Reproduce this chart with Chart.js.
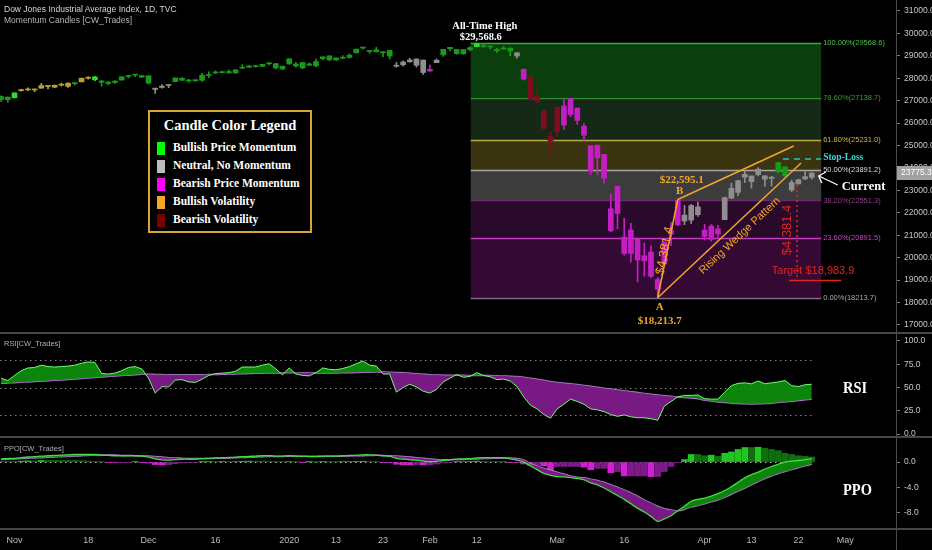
<!DOCTYPE html>
<html><head><meta charset="utf-8">
<script src="https://cdn.jsdelivr.net/npm/chart.js@4.4.0/dist/chart.umd.min.js"></script>
<style>
html,body{margin:0;padding:0;background:#000;width:932px;height:550px;overflow:hidden;}
#wrap{position:relative;width:932px;height:550px;background:#000;}
canvas{position:absolute;left:0;}
.sep{position:absolute;left:0;width:932px;height:2px;background:#464646;}
.t{position:absolute;white-space:nowrap;font-family:'Liberation Sans',Arial,sans-serif;}
.serif{font-family:'Liberation Serif','Times New Roman',serif;font-weight:bold;color:#fff;}
#legend{position:absolute;left:148px;top:110px;width:160px;height:119px;border:2px solid #d9a531;background:#000;}
#legend .title{position:absolute;left:0;width:160px;top:5px;text-align:center;font-size:14.5px;}
#legend .sw{position:absolute;left:7px;width:8px;height:13px;}
#legend .lb{position:absolute;left:23px;font-size:11.5px;}
.big{position:absolute;font-family:'Liberation Serif',serif;font-weight:bold;color:#fff;font-size:17px;transform:scaleX(0.85);transform-origin:left center;}
</style></head><body>
<div id="wrap">
<canvas id="cPrice" width="932" height="333" style="top:0"></canvas>
<canvas id="cRsi" width="932" height="104" style="top:333px"></canvas>
<canvas id="cPpo" width="932" height="113" style="top:437px"></canvas>
<div class="sep" style="top:332px"></div>
<div class="sep" style="top:436px"></div>
<div class="sep" style="top:528px"></div>
<div style="position:absolute;left:896px;top:0;width:1px;height:550px;background:#4a4a4a"></div>
<div class="t" style="left:4px;top:4px;font-size:8.5px;color:#d6d6d6">Dow Jones Industrial Average Index, 1D, TVC</div>
<div class="t" style="left:4px;top:15px;font-size:8.5px;color:#b4b4b4">Momentum Candles [CW_Trades]</div>
<div class="t" style="left:4px;top:339px;font-size:7.5px;color:#b0b0b0">RSI[CW_Trades]</div>
<div class="t" style="left:4px;top:444px;font-size:7.5px;color:#b0b0b0">PPO[CW_Trades]</div>
<div class="big" style="left:843px;top:378px">RSI</div>
<div class="big" style="left:843px;top:480px">PPO</div>
<div id="legend" class="serif">
  <div class="title">Candle Color Legend</div>
  <div class="sw" style="top:30px;background:#00ff00"></div><div class="lb" style="top:29px">Bullish Price Momentum</div>
  <div class="sw" style="top:48px;background:#bdbdbd"></div><div class="lb" style="top:47px">Neutral, No Momentum</div>
  <div class="sw" style="top:66px;background:#ff00ff"></div><div class="lb" style="top:65px">Bearish Price Momentum</div>
  <div class="sw" style="top:84px;background:#f5a623"></div><div class="lb" style="top:83px">Bullish Volatility</div>
  <div class="sw" style="top:102px;background:#7a0000"></div><div class="lb" style="top:101px">Bearish Volatility</div>
</div>
</div>
<script>
// ---------- DATA ----------
const dates = [
'2019-10-30','2019-10-31',
'2019-11-01','2019-11-04','2019-11-05','2019-11-06','2019-11-07','2019-11-08','2019-11-11','2019-11-12','2019-11-13','2019-11-14','2019-11-15','2019-11-18','2019-11-19','2019-11-20','2019-11-21','2019-11-22','2019-11-25','2019-11-26','2019-11-27','2019-11-29',
'2019-12-02','2019-12-03','2019-12-04','2019-12-05','2019-12-06','2019-12-09','2019-12-10','2019-12-11','2019-12-12','2019-12-13','2019-12-16','2019-12-17','2019-12-18','2019-12-19','2019-12-20','2019-12-23','2019-12-24','2019-12-26','2019-12-27','2019-12-30','2019-12-31',
'2020-01-02','2020-01-03','2020-01-06','2020-01-07','2020-01-08','2020-01-09','2020-01-10','2020-01-13','2020-01-14','2020-01-15','2020-01-16','2020-01-17','2020-01-21','2020-01-22','2020-01-23','2020-01-24','2020-01-27','2020-01-28','2020-01-29','2020-01-30','2020-01-31',
'2020-02-03','2020-02-04','2020-02-05','2020-02-06','2020-02-07','2020-02-10','2020-02-11','2020-02-12','2020-02-13','2020-02-14','2020-02-18','2020-02-19','2020-02-20','2020-02-21','2020-02-24','2020-02-25','2020-02-26','2020-02-27','2020-02-28',
'2020-03-02','2020-03-03','2020-03-04','2020-03-05','2020-03-06','2020-03-09','2020-03-10','2020-03-11','2020-03-12','2020-03-13','2020-03-16','2020-03-17','2020-03-18','2020-03-19','2020-03-20','2020-03-23','2020-03-24','2020-03-25','2020-03-26','2020-03-27','2020-03-30','2020-03-31',
'2020-04-01','2020-04-02','2020-04-03','2020-04-06','2020-04-07','2020-04-08','2020-04-09','2020-04-13','2020-04-14','2020-04-15','2020-04-16','2020-04-17','2020-04-20','2020-04-21','2020-04-22','2020-04-23','2020-04-24'];
const futureDates = ['2020-04-27','2020-04-28','2020-04-29','2020-04-30','2020-05-01'];

const opens = [27050,27160,27130,27450,27480,27480,27560,27630,27600,27700,
27640,27760,27840,28000,28060,27880,27830,27810,27920,28080,
28140,28120,28109,27560,27590,27690,27850,28000,27900,27890,
27910,28120,28250,28250,28300,28240,28480,28490,28550,28530,
28675,28654,28415,28638,28553,28465,28640,28556,28874,29000,
28820,28895,28930,29133,29364,29230,29264,29137,29244,28555,
28602,28820,28580,28813,28319,28697,29049,29321,29286,29094,
29366,29407,29420,29440,29280,29305,29331,29135,28403,28038,
27189,26527,25195,25591,26762,26384,26672,25457,24992,24453,
24605,22185,21974,20918,20190,20819,19863,20253,19028,19722,
21050,21468,21898,21678,22266,21227,20819,21286,21694,23092,
22913,23589,23645,23706,23652,23592,23830,24050,23356,23288,
23613,23581];
const highs = [27220,27170,27350,27515,27572,27523,27775,27681,27697,27787,
27797,27802,28005,28072,28090,27910,27850,27900,28068,28122,
28174,28120,28109,27560,27720,27700,28020,28036,27950,27930,
28225,28290,28337,28320,28375,28384,28608,28582,28590,28621,
28702,28664,28548,28872,28716,28708,28685,28866,28958,29009,
28908,29010,29088,29299,29374,29233,29373,29191,29247,28703,
28774,28892,28867,28813,28592,28857,29290,29380,29286,29277,
29415,29569,29526,29441,29333,29408,29366,29151,28403,28149,
27492,26621,25600,26706,27085,27102,26672,25994,24992,25021,
24605,22838,23190,21768,21529,20827,20653,20531,19121,20711,
21565,22595,22328,22378,22479,21487,21478,21447,22704,23329,
23449,23869,23645,24017,23652,23626,24264,24050,23456,23508,
23888,23794];
const lows = [26960,26930,27120,27421,27445,27397,27550,27527,27578,27648,
27592,27697,27840,27960,27880,27650,27700,27770,27920,28010,
28070,28030,27750,27325,27560,27580,27850,27900,27820,27860,
27860,28030,28210,28240,28230,28215,28430,28490,28500,28530,
28600,28420,28376,28627,28500,28419,28565,28503,28819,28779,
28790,28876,28895,29133,29295,29115,29165,28958,28864,28493,
28535,28716,28497,28169,28319,28697,28977,29225,29068,29060,
29218,29407,29369,29308,29155,29305,29003,28892,27922,27058,
26906,25754,24681,25392,25706,26286,25943,25227,23706,23690,
23328,21154,21285,20116,19800,18917,19177,19095,18213.7,19649,
20538,21427,21469,21522,21846,20785,20735,20863,21694,22635,
22762,23346,23099,23651,23175,23196,23778,23597,22942,23288,
23481,23499];
const closes = [27186,27046,27347,27462,27493,27493,27675,27681,27691,27691,
27784,27782,28005,28036,27934,27821,27766,27876,28066,28122,
28164,28051,27783,27503,27650,27678,28015,27910,27882,27911,
28132,28135,28236,28267,28239,28377,28455,28552,28515,28621,
28645,28462,28538,28869,28635,28703,28584,28745,28957,28824,
28907,28940,29030,29298,29348,29196,29186,29160,28990,28536,
28723,28734,28859,28256,28400,28808,29291,29380,29103,29277,
29276,29551,29423,29398,29232,29348,29220,28992,27961,27081,
26958,25767,25409,26703,25917,27091,26121,25865,23851,25018,
23553,21201,23186,20189,21237,19899,20087,19174,18592,20705,
21201,22552,21637,22327,21917,20944,21413,21053,22680,22654,
23434,23719,23391,23950,23504,23538,24242,23650,23019,23476,
23515,23775.3];
// candle state: G/g bullish momentum, n neutral, m bearish momentum, y bullish volatility, r bearish volatility
const candleStates = ('ggG'+'yyyyyyyy'+'g'+'yy'+'G'+'gggggggg'+'nnn'+
'ggggggggggggggggggggggggggggggggg'+'nnnnn'+'m'+'n'+'ggggg'+'G'+'ggggg'+'n'+'m'+'rrrrr'+
'mmmmmmmmmmmmmmmmmm'+'nnn'+'mmm'+'nnnnnnnn'+'gg'+'nnnn').split('');

const rsiValues = [60,57.5,63,68,71,71.5,74,72.5,72,72.5,
73,74,76,77.5,77,65,64.5,65.5,68,71.5,
72.5,70,60,44,51,50.5,58,58.5,56,55.5,
59,63,65,65.5,66,67.5,72,72,72,74,
75.5,70,63.5,71,64.5,63,62.5,66,71,69.5,
69,70.5,72.5,75.5,78.5,74,73,64.5,64.5,45,
50,53.5,50.5,46,44,48,56,60,64,61,
62,66,63,61.5,58.5,59,57,51,40,31,
27,21,17,27,32,37.5,35,32,27,26,
24,21,19,20.5,18.5,17.5,17.5,16.5,14.7,30,
35,40,41.5,41.5,42,38,37.5,37.5,45,52,
54.5,55,54,57,54,55,56,57.5,52,51,
53,53.5];
const rsiSignal = [54.5,54.8,
55.2,55.6,56.0,56.4,56.9,57.3,57.7,58.1,58.6,59.1,
59.6,60.2,60.8,61.3,61.8,62.3,62.8,63.3,63.8,64.2,
64.3,64.1,63.9,63.8,63.7,63.7,63.7,63.7,63.8,63.9,
64.0,64.2,64.4,64.6,64.8,65.0,65.2,65.4,65.6,65.7,
65.7,65.8,65.7,65.6,65.5,65.5,65.6,65.6,65.7,65.8,
65.9,66.1,66.3,66.5,66.6,66.6,66.5,66.2,65.8,65.3,
64.8,64.3,63.8,63.5,63.3,63.2,63.2,63.1,63.0,63.0,
62.9,62.8,62.6,62.4,62.2,61.8,61.0,60.0,59.0,57.8,
56.5,55.5,54.7,54.0,53.2,52.3,51.3,50.3,49.3,48.3,
47.3,46.4,45.5,44.6,43.7,42.8,41.9,41.2,40.5,39.9,
39.2,38.6,38.0,36.5,35.5,34.5,33.8,33.2,32.8,32.5,
32.4,32.5,32.8,33.2,33.8,34.5,35.2,36.0,36.8,37.5];

const ppoValues = [0.5,0.55,
0.6,0.7,0.8,0.85,0.95,1.0,1.05,1.1,1.15,1.2,
1.2,1.2,1.2,1.1,1.05,1.0,1.0,1.0,1.0,0.95,
0.8,0.5,0.35,0.3,0.4,0.45,0.45,0.45,0.55,0.6,
0.65,0.7,0.72,0.78,0.85,0.9,0.95,1.0,1.0,0.95,
0.95,1.0,0.95,0.9,0.9,0.9,0.95,0.95,0.95,1.0,
1.05,1.1,1.15,1.15,1.1,1.0,0.9,0.6,0.45,0.35,
0.3,0.15,0.05,0.1,0.25,0.35,0.45,0.5,0.55,0.65,
0.7,0.7,0.7,0.7,0.5,0.3,0.0,-0.6,-1.2,-1.8,
-2.1,-2.3,-2.35,-2.45,-2.6,-2.8,-3.3,-3.6,-4.1,-4.7,
-5.3,-5.9,-6.6,-7.3,-7.9,-8.6,-9.4,-9.0,-8.5,-7.7,
-7.0,-6.2,-5.9,-5.7,-5.4,-5.0,-4.5,-3.9,-3.2,-2.5,
-2.0,-1.6,-1.1,-0.7,-0.35,0.0,0.15,0.25,0.4,0.55];
const ppoSignal = [0.4,0.45,
0.5,0.55,0.6,0.65,0.7,0.75,0.8,0.85,0.9,0.95,
1.0,1.05,1.1,1.1,1.1,1.1,1.05,1.05,1.0,1.0,
0.95,0.9,0.8,0.7,0.65,0.6,0.55,0.55,0.55,0.55,
0.6,0.6,0.65,0.7,0.72,0.75,0.8,0.85,0.9,0.9,
0.9,0.92,0.92,0.92,0.9,0.9,0.9,0.92,0.93,0.95,
0.97,1.0,1.02,1.05,1.06,1.05,1.0,0.95,0.88,0.8,
0.7,0.6,0.5,0.42,0.38,0.38,0.4,0.42,0.45,0.5,
0.55,0.58,0.6,0.62,0.65,0.55,0.35,-0.3,-0.6,-1.0,
-1.3,-1.6,-1.9,-2.2,-2.4,-2.5,-2.7,-2.9,-3.2,-3.6,
-4.0,-4.4,-4.9,-5.4,-6.0,-6.5,-7.0,-7.4,-7.6,-7.7,
-7.5,-7.1,-6.9,-6.6,-6.3,-6.0,-5.6,-5.1,-4.6,-4.1,
-3.6,-3.1,-2.6,-2.2,-1.8,-1.5,-1.2,-0.9,-0.6,-0.35];
const ppoHist = [0.1,0.1,
0.1,0.15,0.2,0.2,0.25,0.25,0.25,0.25,0.25,0.25,
0.2,0.15,0.1,0.02,-0.05,-0.1,-0.05,-0.05,0.02,-0.05,
-0.15,-0.4,-0.45,-0.4,-0.25,-0.15,-0.1,-0.1,0.02,0.05,
0.05,0.1,0.07,0.08,0.13,0.15,0.15,0.15,0.1,0.05,
0.05,0.08,0.03,-0.02,0.02,0.02,0.05,0.03,0.02,0.05,
0.08,0.1,0.13,0.1,0.04,-0.05,-0.1,-0.35,-0.43,-0.45,
-0.4,-0.45,-0.45,-0.32,-0.13,-0.03,0.05,0.08,0.1,0.15,
0.1,0.08,0.06,0.03,-0.05,-0.1,-0.3,-0.5,-0.5,-0.6,
-1.5,-0.7,-0.7,-0.7,-0.7,-0.8,-1.2,-1.0,-1.0,-1.7,
-1.5,-2.2,-2.2,-2.2,-2.2,-2.3,-2.3,-1.5,-0.7,-0.1,
0.4,1.2,1.2,1.0,1.1,0.9,1.4,1.6,2.0,2.3,
2.3,2.35,2.2,2.0,1.8,1.4,1.2,1.0,0.9,0.8];

const priceTicks = [17000,18000,19000,20000,21000,22000,23000,24000,25000,26000,27000,28000,29000,30000,31000];
const rsiTicks = [0,25,50,75,100];
const rsiBands = [80,50,20];
const ppoTicks = [-8,-4,0];
const xTickDates = ['2019-11-01','2019-11-18','2019-12-02','2019-12-16','2020-01-02','2020-01-13','2020-01-23','2020-02-03','2020-02-12','2020-03-02','2020-03-16','2020-04-01','2020-04-13','2020-04-22','2020-05-01'];
const xTickLabels = ['Nov','18','Dec','16','2020','13','23','Feb','12','Mar','16','Apr','13','22','May'];

const fibPercents = ['100.00','78.60','61.80','50.00','38.20','23.60','0.00'];
const fibValues = [29568.6,27138.7,25231.0,23891.2,22551.3,20891.5,18213.7];
const athValue = 29568.6, lowA = 18213.7, highB = 22595.1;
const wedgeUpper = [[101,22595.1],[118.3,24981]];
const wedgeLower = [[98,18213.7],[119.4,24224]];
const legAB = [[98,18213.7],[101,22595.1]];
const stopLoss = 24400;
const targetPrice = 18983.9;
const moveSize = 4381.4;

// ---------- HELPERS ----------
const slots = dates.concat(futureDates);
const slotOf = d => slots.indexOf(d);
const xMin = -0.164, xMax = 133.57;
const stateColors = {G:'#2fdc2f', g:'#1a9a1a', y:'#b5a238', n:'#8e8e8e', m:'#c41ec4', r:'#7d0e20'};
const candleColors = candleStates.map(s => stateColors[s]);
const wicks = dates.map((d,i)=>({x:i, y:[lows[i], highs[i]]}));
const bodies = dates.map((d,i)=>({x:i, y:[Math.min(opens[i],closes[i]), Math.max(opens[i],closes[i])]}));
const pts = (arr)=>arr.map(a=>({x:a[0], y:a[1]}));
const series = (vals)=>vals.map((v,i)=>({x:i, y:v}));
const histColors = ppoHist.map((v,i)=>{
  const prev = i>0 ? ppoHist[i-1] : v;
  if (v >= 0) return v > prev ? '#22c522' : '#0f6f0f';
  return v < prev ? '#d21fd2' : '#7d1a8a';
});

Chart.defaults.font.family = "'Liberation Sans', Arial, sans-serif";
Chart.defaults.color = '#c8c8c8';

function xOpts(show){
  return {type:'linear', min:xMin, max:xMax, offset:false, display:show,
    grid:{display:false, drawTicks:false}, border:{display:false},
    afterFit:s=>{ if(show){s.height=21;} s.paddingLeft=0; s.paddingRight=0; },
    afterBuildTicks:s=>{ s.ticks = xTickDates.map(d=>({value:slotOf(d)})); },
    ticks:{autoSkip:false, maxRotation:0, minRotation:0, color:'#bcbcbc', font:{size:9}, padding:6,
      callback:(v)=>{ const k = xTickDates.findIndex(d=>slotOf(d)===v); return k>=0 ? xTickLabels[k] : ''; }}
  };
}
function yOpts(min,max,ticks,fmt){
  return {position:'right', min:min, max:max,
    afterFit:s=>{ s.width=36; s.paddingTop=0; s.paddingBottom=0; },
    afterBuildTicks:s=>{ s.ticks = ticks.map(v=>({value:v})); },
    grid:{drawOnChartArea:false, drawTicks:true, tickLength:4, color:'#777'},
    border:{display:false},
    ticks:{color:'#c8c8c8', font:{size:8.5}, padding:4, callback:fmt}
  };
}
const baseOpts = {responsive:false, animation:false, events:[], layout:{padding:0},
  plugins:{legend:{display:false}, tooltip:{enabled:false}}};

// ---------- PRICE PANE ----------
const fibBandColors = ['#0b3e0d','#162816','#3a3411','#3c3c3c','#2a0a2a','#340a34'];
const fibLineColors = ['#2fb42f','#2f8f2f','#b8aa44','#a8a8a0','#6a2a6a','#c23cc2','#8a6a8a'];
const fibTextColors = ['#4cc04c','#3d9a3d','#cbb445','#d8d8d8','#8e3c8e','#c548c5','#a8a8a8'];
const fibStart = 70.1, fibEnd = 122.4;

const fibPlugin = {
  id:'fib',
  beforeDatasetsDraw(chart){
    const {ctx, scales:{x,y}} = chart;
    const x0 = x.getPixelForValue(fibStart), x1 = x.getPixelForValue(fibEnd);
    ctx.save();
    for (let k=0;k<fibValues.length-1;k++){
      const ya = y.getPixelForValue(fibValues[k]), yb = y.getPixelForValue(fibValues[k+1]);
      ctx.fillStyle = fibBandColors[k];
      ctx.fillRect(x0, ya, x1-x0, yb-ya);
    }
    ctx.lineWidth = 1.5;
    fibValues.forEach((v,k)=>{
      const yy = Math.round(y.getPixelForValue(v))+0.5;
      ctx.strokeStyle = fibLineColors[k];
      ctx.beginPath(); ctx.moveTo(x0,yy); ctx.lineTo(x1,yy); ctx.stroke();
    });
    ctx.font = "7.5px 'Liberation Sans', Arial, sans-serif";
    ctx.textBaseline = 'middle'; ctx.textAlign = 'left';
    fibValues.forEach((v,k)=>{
      ctx.fillStyle = fibTextColors[k];
      ctx.fillText(fibPercents[k]+'%('+v.toFixed(1)+')', x1+2, y.getPixelForValue(v));
    });
    ctx.restore();
  }
};

function rotText(ctx, txt, cx, cy, ang){
  ctx.save(); ctx.translate(cx,cy); ctx.rotate(ang); ctx.fillText(txt,0,0); ctx.restore();
}
const money = v => '$'+v.toLocaleString('en-US',{minimumFractionDigits:1, maximumFractionDigits:1});
const annotPlugin = {
  id:'annot',
  afterDatasetsDraw(chart){
    const {ctx, scales:{x,y}} = chart;
    const X = v=>x.getPixelForValue(v), Y = v=>y.getPixelForValue(v);
    const serif = s=>"bold "+s+"px 'Liberation Serif', 'Times New Roman', serif";
    const sans = s=>s+"px 'Liberation Sans', Arial, sans-serif";
    const orange = '#f5a42a';
    ctx.save();
    ctx.textAlign='center'; ctx.textBaseline='middle';
    const athX = X(slotOf('2020-02-12'));
    ctx.fillStyle='#ffffff'; ctx.font=serif(10.5);
    ctx.fillText('All-Time High', athX+8, Y(athValue)-17);
    ctx.fillText(money(athValue), athX+4, Y(athValue)-6);
    const ax = X(legAB[0][0]), ay = Y(lowA), bx = X(legAB[1][0]), by = Y(highB);
    ctx.fillStyle=orange; ctx.font=serif(11);
    ctx.fillText(money(highB), bx+4, by-19);
    ctx.fillText('B', bx+2, by-8);
    ctx.fillText('A', ax+2, ay+9);
    ctx.fillText(money(lowA), ax+2, ay+23);
    ctx.font=sans(12.5);
    rotText(ctx, money(moveSize), (ax+bx)/2-3, (ay+by)/2+2, Math.atan2(by-ay, bx-ax));
    const lx0 = X(wedgeLower[0][0]), ly0 = Y(wedgeLower[0][1]), lx1 = X(wedgeLower[1][0]), ly1 = Y(wedgeLower[1][1]);
    const ang = Math.atan2(ly1-ly0, lx1-lx0);
    const mx = lx0 + (lx1-lx0)*0.52, my = ly0 + (ly1-ly0)*0.52;
    ctx.font=sans(11);
    rotText(ctx, 'Rising Wedge Pattern', mx - 11*Math.sin(ang), my + 11*Math.cos(ang), ang);
    const slY = Y(stopLoss);
    ctx.strokeStyle='#2fc4b4'; ctx.lineWidth=1.5; ctx.setLineDash([6,5]);
    ctx.beginPath(); ctx.moveTo(X(116.7), slY); ctx.lineTo(X(fibEnd), slY); ctx.stroke();
    ctx.setLineDash([]);
    ctx.fillStyle='#3fd8d0'; ctx.font=serif(9.5); ctx.textAlign='left';
    ctx.fillText('Stop-Loss', X(fibEnd)+2, slY-1);
    const red = '#e2231f';
    const vx = X(118.8);
    ctx.strokeStyle=red; ctx.lineWidth=1.5; ctx.setLineDash([2,3]);
    ctx.beginPath(); ctx.moveTo(vx, Y(23243)); ctx.lineTo(vx, Y(targetPrice)); ctx.stroke();
    ctx.setLineDash([]);
    ctx.beginPath(); ctx.moveTo(X(117.6), Y(targetPrice)); ctx.lineTo(X(125.4), Y(targetPrice)); ctx.stroke();
    ctx.fillStyle=red; ctx.font=sans(11); ctx.textAlign='center';
    ctx.fillText('Target '+money(targetPrice), X(121.2), Y(targetPrice)-10);
    ctx.font=sans(13);
    rotText(ctx, money(moveSize), vx-10, Y(21236), -Math.PI/2);
    const last = closes[closes.length-1];
    const tipX = X(dates.length-1)+7, tipY = Y(last)+3;
    ctx.strokeStyle='#ffffff'; ctx.lineWidth=1.3;
    ctx.beginPath(); ctx.moveTo(tipX+19, tipY+9); ctx.lineTo(tipX, tipY); ctx.stroke();
    ctx.beginPath(); ctx.moveTo(tipX+7, tipY-4); ctx.lineTo(tipX, tipY); ctx.lineTo(tipX+3, tipY+7); ctx.stroke();
    ctx.fillStyle='#ffffff'; ctx.font=serif(12.5); ctx.textAlign='left';
    ctx.fillText('Current', tipX+23, tipY+11);
    ctx.restore();
  },
  afterDraw(chart){
    const {ctx, scales:{y}} = chart;
    const last = closes[closes.length-1];
    const yy = y.getPixelForValue(last);
    ctx.save();
    ctx.fillStyle='#a2a2a2';
    ctx.fillRect(897, yy-7, 35, 14);
    ctx.fillStyle='#ffffff'; ctx.font="8.5px 'Liberation Sans', Arial, sans-serif";
    ctx.textBaseline='middle'; ctx.textAlign='left';
    ctx.fillText(last.toFixed(1), 901, yy);
    ctx.restore();
  }
};

new Chart(document.getElementById('cPrice'), {
  type:'bar',
  data:{datasets:[
    {type:'line', data:pts(wedgeUpper), borderColor:'#f5a42a', borderWidth:1.5, pointRadius:0, order:0},
    {type:'line', data:pts(wedgeLower), borderColor:'#f5a42a', borderWidth:1.5, pointRadius:0, order:0},
    {type:'line', data:pts(legAB), borderColor:'#f5a42a', borderWidth:1.5, pointRadius:0, order:0},
    {type:'bar', data:bodies, backgroundColor:candleColors, barThickness:5, grouped:false, minBarLength:1, order:1},
    {type:'bar', data:wicks, backgroundColor:candleColors, barThickness:1, grouped:false, order:2}
  ]},
  options:Object.assign({}, baseOpts, {
    scales:{x:xOpts(false), y:yOpts(16643,31490,priceTicks,v=>v.toFixed(1))}
  }),
  plugins:[fibPlugin, annotPlugin]
});

// ---------- RSI PANE ----------
const hlinePlugin = (vals, color) => ({
  id:'hl',
  beforeDatasetsDraw(chart){
    const {ctx, scales:{x,y}} = chart;
    ctx.save(); ctx.strokeStyle=color; ctx.lineWidth=1; ctx.setLineDash([1.5,3.5]);
    vals.forEach(v=>{ const yy=Math.round(y.getPixelForValue(v))+0.5;
      ctx.beginPath(); ctx.moveTo(x.getPixelForValue(xMin), yy); ctx.lineTo(x.getPixelForValue(dates.length-1), yy); ctx.stroke(); });
    ctx.restore();
  }
});

new Chart(document.getElementById('cRsi'), {
  type:'line',
  data:{datasets:[
    {data:series(rsiValues), borderColor:'#6dff6d', borderWidth:1, pointRadius:0, tension:0,
      fill:{target:1, above:'rgba(14,140,14,0.95)', below:'rgba(128,26,138,0.95)'}},
    {data:series(rsiSignal), borderColor:'#b47ad4', borderWidth:1.5, pointRadius:0, tension:0.3, fill:false}
  ]},
  options:Object.assign({}, baseOpts, {
    scales:{x:xOpts(false), y:yOpts(-3.2,108.6,rsiTicks,v=>v.toFixed(1))}
  }),
  plugins:[hlinePlugin(rsiBands,'#808080')]
});

// ---------- PPO PANE ----------
new Chart(document.getElementById('cPpo'), {
  type:'bar',
  data:{datasets:[
    {type:'line', data:series(ppoValues), borderColor:'#3fe03f', borderWidth:1.3, pointRadius:0, tension:0.2,
      fill:{target:1, above:'rgba(14,140,14,0.95)', below:'rgba(128,26,138,0.95)'}, order:0},
    {type:'line', data:series(ppoSignal), borderColor:'#b47ad4', borderWidth:1.5, pointRadius:0, tension:0.3, fill:false, order:1},
    {type:'bar', data:series(ppoHist), backgroundColor:histColors, barThickness:6, grouped:false, order:2}
  ]},
  options:Object.assign({}, baseOpts, {
    scales:{x:xOpts(true), y:yOpts(-10.6,3.97,ppoTicks,v=>v.toFixed(1))}
  }),
  plugins:[hlinePlugin([0],'#9fcf9f')]
});
</script>
</body></html>
